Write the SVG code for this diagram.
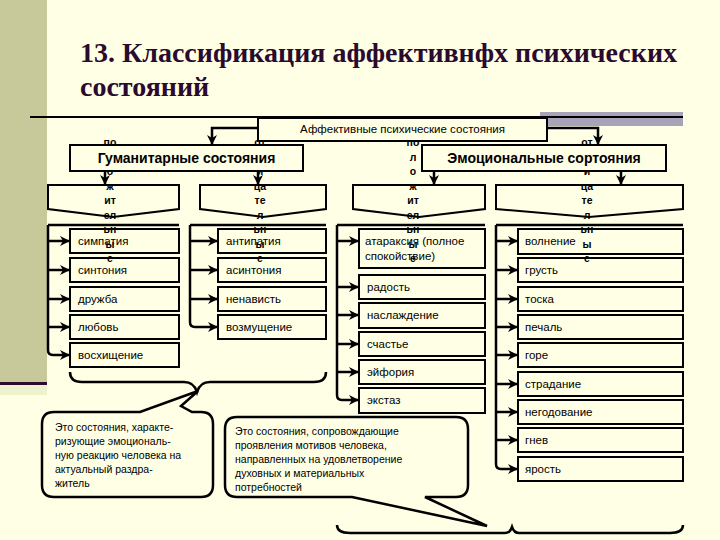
<svg xmlns="http://www.w3.org/2000/svg" width="720" height="540" viewBox="0 0 720 540">
<defs>
<style>
.box{fill:#FFFFE5;stroke:#000;stroke-width:2}
.con{fill:none;stroke:#000;stroke-width:2.5}
.t{font-family:"Liberation Sans",Arial,sans-serif;font-size:11.5px;fill:#000}
.tb{font-family:"Liberation Sans",Arial,sans-serif;font-size:14px;font-weight:bold;fill:#000}
.frag{font-family:"Liberation Sans",Arial,sans-serif;font-size:10.5px;font-weight:bold;fill:#000;text-anchor:middle}
.ct{font-family:"Liberation Sans",Arial,sans-serif;font-size:10.5px;fill:#000}
.brace{fill:none;stroke:#000;stroke-width:2.5}
</style>
<marker id="ah" viewBox="0 0 10 10" refX="9" refY="5" markerWidth="10" markerHeight="10" markerUnits="userSpaceOnUse" orient="auto"><path d="M0,0 L10,5 L0,10 L3,5 Z" fill="#000"/></marker>
</defs>
<rect width="720" height="540" fill="#FFFFE5"/>
<rect x="0" y="0" width="47" height="382" fill="#C8C99A"/>
<rect x="0" y="382" width="47" height="3" fill="#2E0A2E"/>
<rect x="0" y="385" width="47" height="10" fill="#EEF3CE"/>
<rect x="540" y="112" width="143" height="14" fill="#A9A3BA"/>
<line x1="30" y1="117" x2="683" y2="117" stroke="#000" stroke-width="2"/>
<g id="title">
<text x="80" y="62" font-family="Liberation Serif,'Times New Roman',serif" font-weight="bold" font-size="28" fill="#2A0A2E" textLength="597" lengthAdjust="spacingAndGlyphs">13. Классификация аффективнфх психических</text>
<text x="80" y="96" font-family="Liberation Serif,'Times New Roman',serif" font-weight="bold" font-size="28" fill="#2A0A2E">состояний</text>
</g>
<g id="chevrons">
<polygon id="pos1" class="box" points="48,185 179,185 179,209 113,217 48,209"/>
<polygon id="neg1" class="box" points="200,185 326,185 326,209 263,217 200,209"/>
<polygon id="pos2" class="box" points="353,185 485,185 485,209 419,217 353,209"/>
<polygon id="neg2" class="box" points="496,185 683,185 683,209 589,217 496,209"/>
</g>
<g id="connectors">
<path class="con" d="M258,128 H212 V144" marker-end="url(#ah)"/>
<path class="con" d="M547,128 H598 V144" marker-end="url(#ah)"/>
<path class="con" d="M105,171 V184" marker-end="url(#ah)"/>
<path class="con" d="M258,171 V184" marker-end="url(#ah)"/>
<path class="con" d="M434,171 V184" marker-end="url(#ah)"/>
<path class="con" d="M621,171 V184" marker-end="url(#ah)"/>
<path class="con" d="M48,225 H179"/>
<path class="con" d="M48,225 V350 Q48,355 53,355 H69" marker-end="url(#ah)"/>
<path class="con" d="M48,241 H69" marker-end="url(#ah)"/>
<path class="con" d="M48,270 H69" marker-end="url(#ah)"/>
<path class="con" d="M48,299 H69" marker-end="url(#ah)"/>
<path class="con" d="M48,327 H69" marker-end="url(#ah)"/>
<path class="con" d="M190,225 H326"/>
<path class="con" d="M190,225 V322 Q190,327 195,327 H217" marker-end="url(#ah)"/>
<path class="con" d="M190,241 H217" marker-end="url(#ah)"/>
<path class="con" d="M190,270 H217" marker-end="url(#ah)"/>
<path class="con" d="M190,299 H217" marker-end="url(#ah)"/>
<path class="con" d="M337,225 H485"/>
<path class="con" d="M337,225 V395 Q337,400 342,400 H358" marker-end="url(#ah)"/>
<path class="con" d="M337,241 H358" marker-end="url(#ah)"/>
<path class="con" d="M337,287 H358" marker-end="url(#ah)"/>
<path class="con" d="M337,315 H358" marker-end="url(#ah)"/>
<path class="con" d="M337,344 H358" marker-end="url(#ah)"/>
<path class="con" d="M337,372 H358" marker-end="url(#ah)"/>
<path class="con" d="M496,225 H683"/>
<path class="con" d="M496,225 V464 Q496,469 501,469 H517" marker-end="url(#ah)"/>
<path class="con" d="M496,241 H517" marker-end="url(#ah)"/>
<path class="con" d="M496,270 H517" marker-end="url(#ah)"/>
<path class="con" d="M496,299 H517" marker-end="url(#ah)"/>
<path class="con" d="M496,327 H517" marker-end="url(#ah)"/>
<path class="con" d="M496,355 H517" marker-end="url(#ah)"/>
<path class="con" d="M496,384 H517" marker-end="url(#ah)"/>
<path class="con" d="M496,412 H517" marker-end="url(#ah)"/>
<path class="con" d="M496,440 H517" marker-end="url(#ah)"/>
</g>
<g id="group1">
<g id="n-simpatiya"><rect class="box" x="70" y="229" width="109" height="24"/><text class="t" x="78" y="245">симпатия</text></g>
<g id="n-sintoniya"><rect class="box" x="70" y="258" width="109" height="24"/><text class="t" x="78" y="274">синтония</text></g>
<g id="n-druzhba"><rect class="box" x="70" y="287" width="109" height="24"/><text class="t" x="78" y="303">дружба</text></g>
<g id="n-lyubov"><rect class="box" x="70" y="315" width="109" height="24"/><text class="t" x="78" y="331">любовь</text></g>
<g id="n-voshishchenie"><rect class="box" x="70" y="343" width="109" height="24"/><text class="t" x="78" y="359">восхищение</text></g>
</g>
<g id="group2">
<g id="n-antipatiya"><rect class="box" x="218" y="229" width="108" height="24"/><text class="t" x="226" y="245">антипатия</text></g>
<g id="n-asintoniya"><rect class="box" x="218" y="258" width="108" height="24"/><text class="t" x="226" y="274">асинтония</text></g>
<g id="n-nenavist"><rect class="box" x="218" y="287" width="108" height="24"/><text class="t" x="226" y="303">ненависть</text></g>
<g id="n-vozmushchenie"><rect class="box" x="218" y="315" width="108" height="24"/><text class="t" x="226" y="331">возмущение</text></g>
</g>
<g id="group3">
<g id="n-ataraksiya"><rect class="box" x="359" y="229" width="126" height="39"/><text class="t" x="365" y="245">атараксия (полное</text><text class="t" x="365" y="260">спокойствие)</text></g>
<g id="n-radost"><rect class="box" x="359" y="275" width="126" height="24"/><text class="t" x="367" y="291">радость</text></g>
<g id="n-naslazhdenie"><rect class="box" x="359" y="303" width="126" height="25"/><text class="t" x="367" y="319">наслаждение</text></g>
<g id="n-schastye"><rect class="box" x="359" y="332" width="126" height="24"/><text class="t" x="367" y="348">счастье</text></g>
<g id="n-eyforiya"><rect class="box" x="359" y="360" width="126" height="24"/><text class="t" x="367" y="376">эйфория</text></g>
<g id="n-ekstaz"><rect class="box" x="359" y="388" width="126" height="25"/><text class="t" x="367" y="404">экстаз</text></g>
</g>
<g id="group4">
<g id="n-volnenie"><rect class="box" x="518" y="229" width="165" height="25"/><text class="t" x="525" y="245">волнение</text></g>
<g id="n-grust"><rect class="box" x="518" y="258" width="165" height="24"/><text class="t" x="525" y="274">грусть</text></g>
<g id="n-toska"><rect class="box" x="518" y="287" width="165" height="24"/><text class="t" x="525" y="303">тоска</text></g>
<g id="n-pechal"><rect class="box" x="518" y="315" width="165" height="24"/><text class="t" x="525" y="331">печаль</text></g>
<g id="n-gore"><rect class="box" x="518" y="343" width="165" height="24"/><text class="t" x="525" y="359">горе</text></g>
<g id="n-stradanie"><rect class="box" x="518" y="372" width="165" height="24"/><text class="t" x="525" y="388">страдание</text></g>
<g id="n-negodovanie"><rect class="box" x="518" y="400" width="165" height="24"/><text class="t" x="525" y="416">негодование</text></g>
<g id="n-gnev"><rect class="box" x="518" y="428" width="165" height="24"/><text class="t" x="525" y="444">гнев</text></g>
<g id="n-yarost"><rect class="box" x="518" y="457" width="165" height="24"/><text class="t" x="525" y="473">ярость</text></g>
</g>
<g id="fragments">
<g id="frag-pos1"><text class="frag" x="110" y="146">по</text><text class="frag" x="110" y="175">о</text><text class="frag" x="110" y="190">ж</text><text class="frag" x="110" y="204">ит</text><text class="frag" x="110" y="219">ел</text><text class="frag" x="110" y="233">ьн</text><text class="frag" x="110" y="248">ы</text><text class="frag" x="110" y="262">е</text></g>
<g id="frag-neg1"><text class="frag" x="260" y="146">от</text><text class="frag" x="260" y="175">и</text><text class="frag" x="260" y="190">ца</text><text class="frag" x="260" y="204">те</text><text class="frag" x="260" y="219">л</text><text class="frag" x="260" y="233">ьн</text><text class="frag" x="260" y="248">ы</text><text class="frag" x="260" y="262">е</text></g>
<g id="frag-pos2"><text class="frag" x="413" y="146">по</text><text class="frag" x="413" y="161">л</text><text class="frag" x="413" y="175">о</text><text class="frag" x="413" y="190">ж</text><text class="frag" x="413" y="204">ит</text><text class="frag" x="413" y="219">ел</text><text class="frag" x="413" y="233">ьн</text><text class="frag" x="413" y="248">ы</text><text class="frag" x="413" y="262">е</text></g>
<g id="frag-neg2"><text class="frag" x="587" y="146">от</text><text class="frag" x="587" y="175">и</text><text class="frag" x="587" y="190">ца</text><text class="frag" x="587" y="204">те</text><text class="frag" x="587" y="219">л</text><text class="frag" x="587" y="233">ьн</text><text class="frag" x="587" y="248">ы</text><text class="frag" x="587" y="262">е</text></g>
</g>
<g id="n-root"><rect class="box" x="258" y="118" width="289" height="23"/><text class="t" x="402.5" y="133" text-anchor="middle" font-size="11.5">Аффективные психические состояния</text></g>
<g id="n-gum"><rect class="box" x="70" y="145" width="233" height="26"/><text class="tb" x="186.5" y="163" text-anchor="middle">Гуманитарные состояния</text></g>
<g id="n-emo"><rect class="box" x="422" y="145" width="244" height="26"/><text class="tb" x="544" y="163" text-anchor="middle">Эмоциональные сортояния</text></g>
<g id="braces">
<path class="brace" d="M70,372 Q70,382 82,382 H184 Q194,382 197,392 Q200,382 210,382 H314 Q326,382 326,372"/>
<path class="brace" d="M337,525 Q337,533 350,533 H505 Q510,533 512,527 Q514,533 519,533 H670 Q683,533 683,525"/>
</g>
<g id="callout-left">
<path fill="#FFFFE5" stroke="#000" stroke-width="2.5" d="M54,412 L140,412 L198,391 L181,406 L192,412 L201,412 Q213,412 213,424 L213,485 Q213,497 201,497 L54,497 Q42,497 42,485 L42,424 Q42,412 54,412 Z"/>
<text class="ct" x="55" y="431">Это состояния, характе-</text>
<text class="ct" x="55" y="445">ризующие эмоциональ-</text>
<text class="ct" x="55" y="459">ную реакцию человека на</text>
<text class="ct" x="55" y="473">актуальный раздра-</text>
<text class="ct" x="55" y="487">житель</text>
</g>
<g id="callout-mid">
<path fill="#FFFFE5" stroke="#000" stroke-width="2.5" d="M237,417 L456,417 Q468,417 468,429 L468,485 Q468,497 456,497 L425,497 L487,526 L352,497 L237,497 Q225,497 225,485 L225,429 Q225,417 237,417 Z"/>
<text class="ct" x="235" y="435">Это состояния, сопровождающие</text>
<text class="ct" x="235" y="449">проявления мотивов человека,</text>
<text class="ct" x="235" y="463">направленных на удовлетворение</text>
<text class="ct" x="235" y="477">духовных и материальных</text>
<text class="ct" x="235" y="491">потребностей</text>
</g>
</svg>
